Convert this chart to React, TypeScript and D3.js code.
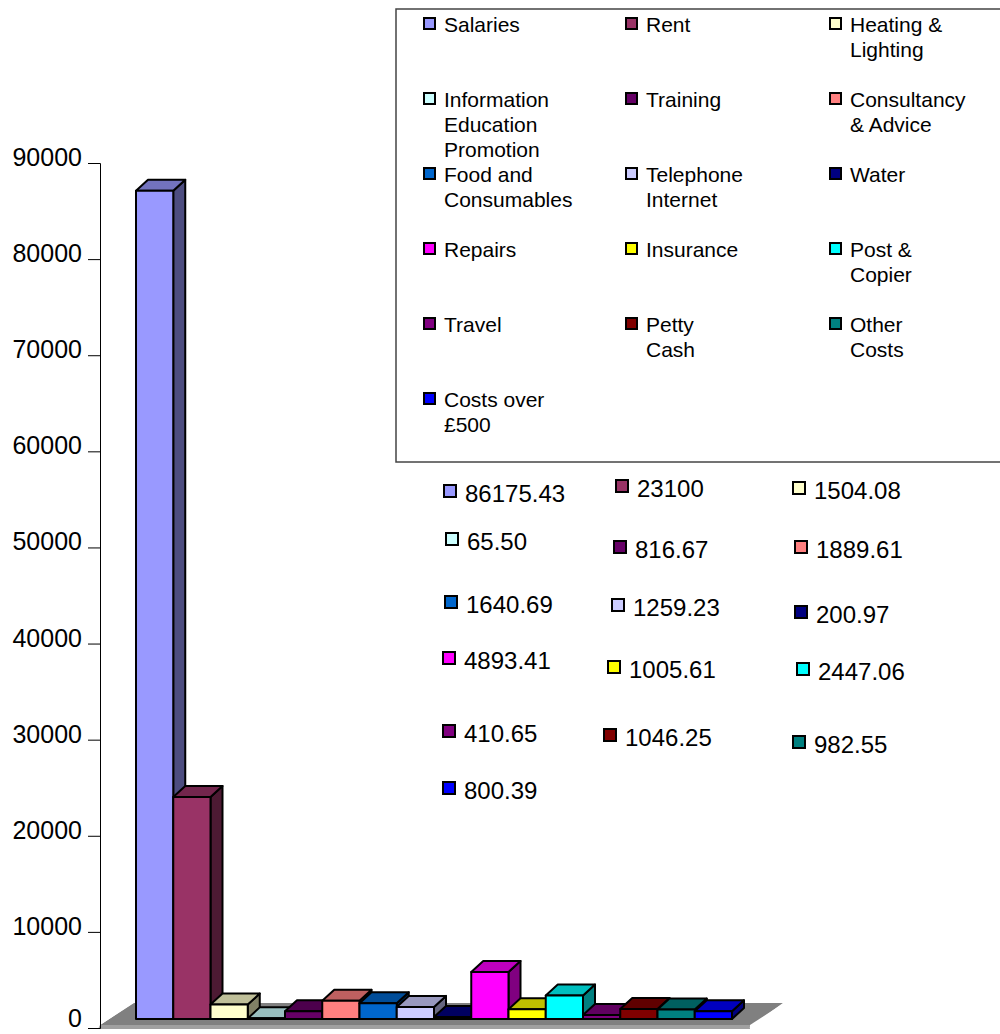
import React, { useEffect, useRef } from 'react';
import * as d3 from 'd3';

// cost headings, one bar each
const categories = [
  'Salaries', 'Rent', 'Heating & Lighting', 'Information Education Promotion',
  'Training', 'Consultancy & Advice', 'Food and Consumables', 'Telephone Internet',
  'Water', 'Repairs', 'Insurance', 'Post & Copier', 'Travel', 'Petty Cash',
  'Other Costs', 'Costs over £500',
];
// how each legend name wraps
const legendLines = [
  ['Salaries'], ['Rent'], ['Heating &', 'Lighting'],
  ['Information', 'Education', 'Promotion'], ['Training'], ['Consultancy', '& Advice'],
  ['Food and', 'Consumables'], ['Telephone', 'Internet'], ['Water'],
  ['Repairs'], ['Insurance'], ['Post &', 'Copier'],
  ['Travel'], ['Petty', 'Cash'], ['Other', 'Costs'],
  ['Costs over', '£500'],
];
const values = [
  86175.43, 23100, 1504.08, 65.5, 816.67, 1889.61, 1640.69, 1259.23,
  200.97, 4893.41, 1005.61, 2447.06, 410.65, 1046.25, 982.55, 800.39,
];
const colors = [
  '#9999FF', '#993366', '#FFFFCC', '#CCFFFF', '#660066', '#FF8080', '#0066CC', '#CCCCFF',
  '#000080', '#FF00FF', '#FFFF00', '#00FFFF', '#800080', '#800000', '#008080', '#0000FF',
];
const yTicks = [0, 10000, 20000, 30000, 40000, 50000, 60000, 70000, 80000, 90000];

// legend column square x
const legendCols = [424, 626, 830];
// where the (hand-moved) value labels sit: square x, text baseline
const labelPos = [
  [444, 502], [616, 497], [793, 499],
  [446, 550], [614, 558], [795, 558],
  [445, 613], [612, 616], [795, 623],
  [443, 669], [608, 678], [797, 680],
  [443, 742], [604, 746], [793, 753],
  [443, 799],
];

const FONT = '"Liberation Sans", Arial, sans-serif';

const shade = (c: string, k: number) => {
  const r = d3.rgb(c);
  return d3.rgb(r.r * k, r.g * k, r.b * k).formatHex();
};
const fmt = (v: number) => (Number.isInteger(v) ? String(v) : v.toFixed(2));

const App = () => {
  const svgRef = useRef<SVGSVGElement>(null);

  useEffect(() => {
    const width = 1000, height = 1034;
    const svg = d3.select(svgRef.current);
    svg.selectAll('*').remove();
    svg.attr('width', width).attr('height', height);

    const axisX = 100;
    const y = d3.scaleLinear().domain([0, 90000]).range([1028, 163]);
    const x = d3.scaleBand<string>().domain(categories).range([136, 732]).padding(0);
    const base = 1019; // front bottom of bars
    const dx = 12, dy = 11;

    // floor
    const floor = svg.append('g');
    floor.append('polygon')
      .attr('points', '100,1025 134,1003 784,1003 750,1025')
      .attr('fill', '#808080');
    floor.append('polygon')
      .attr('points', '100,1025 750,1025 750,1029 98,1029')
      .attr('fill', '#a0a0a0');
    floor.append('line')
      .attr('x1', 750).attr('y1', 1028).attr('x2', 784).attr('y2', 1003)
      .attr('stroke', '#fff').attr('stroke-width', 1.5);
    floor.append('line')
      .attr('x1', 101).attr('y1', 1024).attr('x2', 134).attr('y2', 1002)
      .attr('stroke', '#fff').attr('stroke-width', 1);

    // value axis
    const ax = svg.append('g')
      .attr('transform', `translate(${axisX},0)`)
      .call(d3.axisLeft(y).tickValues(yTicks).tickSize(12).tickPadding(6).tickFormat(d3.format('d')));
    ax.select('.domain').attr('stroke', '#000').attr('stroke-width', 1);
    ax.selectAll('.tick line').attr('stroke', '#000');
    ax.selectAll<SVGTextElement, number>('.tick text')
      .attr('font-family', FONT).attr('font-size', 25).attr('fill', '#000')
      .attr('dy', d => (d === 0 ? '-0.08em' : '0.1em'));

    // bars
    const bars = svg.append('g')
      .attr('stroke', '#000').attr('stroke-width', 2).attr('stroke-linejoin', 'round');
    categories.forEach((c, i) => {
      const x0 = x(c)!, w = x.bandwidth();
      const h = y(0) - y(values[i]);
      const t = base - h;
      const g = bars.append('g');
      g.append('polygon')
        .attr('points', `${x0 + w},${t} ${x0 + w + dx},${t - dy} ${x0 + w + dx},${base - dy} ${x0 + w},${base}`)
        .attr('fill', shade(colors[i], 0.5));
      g.append('polygon')
        .attr('points', `${x0},${t} ${x0 + dx},${t - dy} ${x0 + w + dx},${t - dy} ${x0 + w},${t}`)
        .attr('fill', shade(colors[i], 0.75));
      g.append('rect')
        .attr('x', x0).attr('y', t).attr('width', w).attr('height', h)
        .attr('fill', colors[i]);
    });

    // legend
    const leg = svg.append('g');
    leg.append('rect')
      .attr('x', 396).attr('y', 9).attr('width', 700).attr('height', 453)
      .attr('fill', '#fff').attr('stroke', '#444').attr('stroke-width', 1.5);
    categories.forEach((c, i) => {
      const col = i % 3, row = Math.floor(i / 3);
      const sx = legendCols[col], by = 32 + row * 75;
      leg.append('rect')
        .attr('x', sx).attr('y', by - 14).attr('width', 11).attr('height', 11)
        .attr('fill', colors[i]).attr('stroke', '#000').attr('stroke-width', 2);
      const txt = leg.append('text')
        .attr('font-family', FONT).attr('font-size', 21).attr('fill', '#000');
      legendLines[i].forEach((ln, k) => {
        txt.append('tspan').attr('x', sx + 20).attr('y', by + k * 25).text(ln);
      });
    });

    // value labels
    const lab = svg.append('g');
    values.forEach((v, i) => {
      const [sx, by] = labelPos[i];
      lab.append('rect')
        .attr('x', sx).attr('y', by - 17).attr('width', 12).attr('height', 12)
        .attr('fill', colors[i]).attr('stroke', '#000').attr('stroke-width', 2);
      lab.append('text')
        .attr('x', sx + 21).attr('y', by)
        .attr('font-family', FONT).attr('font-size', 24).attr('fill', '#000')
        .text(fmt(v));
    });
  }, []);

  return <svg ref={svgRef} style={{ position: 'absolute', left: 0, top: 0, display: 'block' }}></svg>;
};

export default App;
